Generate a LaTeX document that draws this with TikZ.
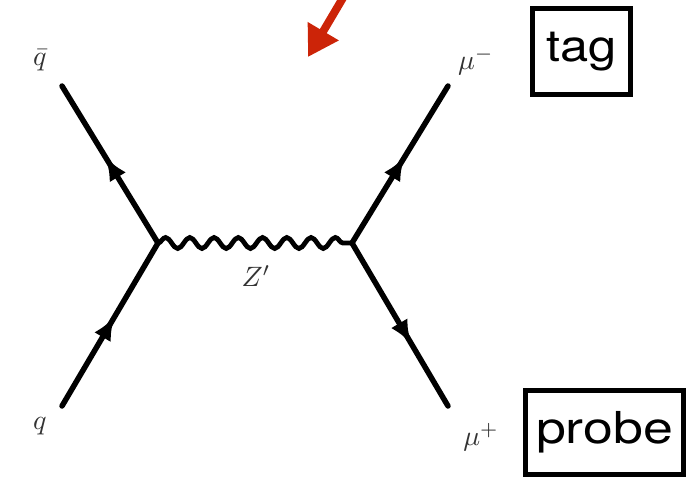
\documentclass[tikz,border=0pt]{standalone}
\usepackage{fontspec}
\setsansfont{TeX Gyre Heros}
\usetikzlibrary{decorations.pathmorphing,decorations.markings,arrows.meta}
\begin{document}
\begin{tikzpicture}[x=1pt,y=-1pt,
  fermion/.style={line width=5.5pt,line cap=round,
    postaction={decorate},decoration={markings,
      mark=at position #1 with {\arrow{Latex[length=24pt,width=19pt]}}}},
  fermion/.default=0.55,
  boson/.style={line width=4.8pt,decorate,
    decoration={snake,amplitude=5.5pt,segment length=24.25pt}},
  plabel/.style={text=black!80,scale=2.8,inner sep=0pt},
  tagbox/.style={draw,line width=5pt,font=\sffamily\fontsize{44}{50}\selectfont,
    inner sep=0pt},
  ]
\useasboundingbox (0,0) rectangle (688,480);
% vertices and ends
\coordinate (v1) at (158,243);
\coordinate (v2) at (352,243);
\coordinate (qbarend) at (62,86);
\coordinate (qend) at (62,406);
\coordinate (mumend) at (448,86);
\coordinate (mupend) at (448,406);
% labels
\node[plabel] (lqbar) at (40,60) {$\bar q$};
\node[plabel] (lq) at (40,426) {$q$};
\node[plabel] (lmum) at (476,61) {$\mu^-$};
\node[plabel] (lmup) at (481,437) {$\mu^+$};
\node[plabel] (lz) at (256,276) {$Z'$};
% lines
\draw[fermion=0.55] (v1) -- (qbarend);
\draw[fermion=0.55] (qend) -- (v1);
\draw[fermion=0.55] (v2) -- (mumend);
\draw[fermion=0.62] (v2) -- (mupend);
\draw[boson] (v1) -- (v2);
% boxes
\node[tagbox,xscale=1.15,minimum width=98pt/1.15,minimum height=86pt] (tag) at (581.5,51.5) {tag};
\node[tagbox,xscale=1.22,minimum width=158pt/1.22,minimum height=84pt] (probe) at (604.5,432.5) {probe};
% red arrow
\definecolor{redarrow}{RGB}{204,36,8}
\coordinate (rtail) at (350,-14);
\coordinate (rtip) at (308,57);
\draw[redarrow,line width=8pt,-{Triangle[length=30pt,width=34pt]}] (rtail) -- (rtip);
\end{tikzpicture}
\end{document}
